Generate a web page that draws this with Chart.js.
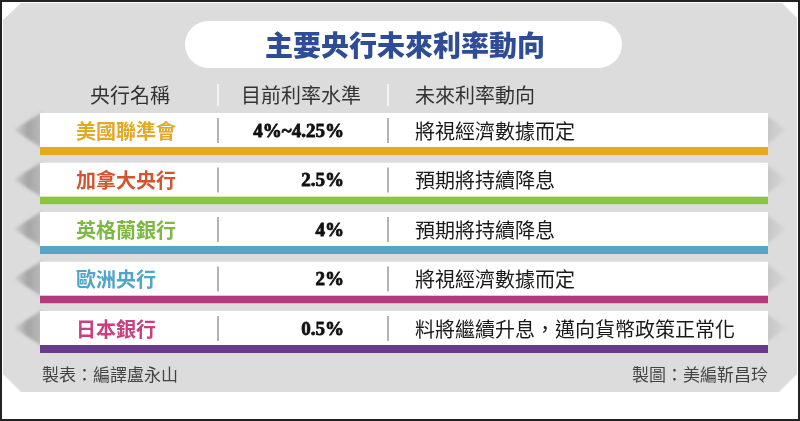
<!DOCTYPE html>
<html><head><meta charset="utf-8">
<script src="https://cdn.jsdelivr.net/npm/chart.js@4"></script>
<style>html,body{margin:0;padding:0;background:#fff}#wrap{position:relative;width:800px;height:421px}</style>
</head><body><div id="wrap"><canvas id="c"></canvas></div>
<script>
const title = '主要央行未來利率動向';
const headers = ['央行名稱', '目前利率水準', '未來利率動向'];
const banks = ['美國聯準會', '加拿大央行', '英格蘭銀行', '歐洲央行', '日本銀行'];
const rates = ['4%~4.25%', '2.5%', '4%', '2%', '0.5%'];
const outlooks = ['將視經濟數據而定', '預期將持續降息', '預期將持續降息', '將視經濟數據而定', '料將繼續升息，邁向貨幣政策正常化'];
const nameColors = ['#e3a826', '#d2552f', '#7db843', '#4ea6c8', '#c8407f'];
const stripeColors = ['#e6a91e', '#8cc63f', '#55a5c3', '#b23a7d', '#6b3b8b'];
const sourceLeft = '製表：編譯盧永山';
const sourceRight = '製圖：美編靳昌玲';

const CJK = '"Noto Sans CJK TC","Noto Sans CJK SC",sans-serif';

const framePlugin = {
  id: 'frame',
  beforeDraw(chart) {
    const ctx = chart.ctx;
    const W = chart.width, H = chart.height;
    const y = chart.scales.y;
    ctx.save();
    ctx.fillStyle = '#ffffff';
    ctx.fillRect(0, 0, W, H);
    // gray panel with chamfered corners
    ctx.fillStyle = '#dcdcdc';
    ctx.beginPath();
    ctx.moveTo(21, 3); ctx.lineTo(782, 3); ctx.lineTo(797, 18);
    ctx.lineTo(797, 374); ctx.lineTo(779, 392); ctx.lineTo(21, 392);
    ctx.lineTo(3, 374); ctx.lineTo(3, 20); ctx.closePath();
    ctx.fill();
    // border
    ctx.strokeStyle = '#222';
    ctx.lineWidth = 2;
    ctx.strokeRect(1, 1, W - 2, H - 2);
    // title pill
    ctx.fillStyle = '#ffffff';
    ctx.beginPath();
    ctx.roundRect(185, 21, 437, 47, 23.5);
    ctx.fill();
    ctx.fillStyle = '#2f4c96';
    ctx.font = '900 28px ' + CJK;
    ctx.textAlign = 'center';
    ctx.textBaseline = 'middle';
    ctx.fillText(title, 405, 45);
    // headers
    ctx.fillStyle = '#333';
    ctx.font = '400 20px ' + CJK;
    ctx.fillText(headers[0], 130, 95);
    ctx.fillText(headers[1], 301, 95);
    ctx.textAlign = 'left';
    ctx.fillText(headers[2], 415, 95);
    ctx.strokeStyle = '#f4f4f4';
    ctx.lineWidth = 2;
    [218, 388].forEach(x => { ctx.beginPath(); ctx.moveTo(x, 84); ctx.lineTo(x, 106); ctx.stroke(); });
    // arrows
    ctx.filter = 'blur(1.5px)';
    banks.forEach((b, i) => {
      const c = y.getPixelForValue(i) - 4;
      let g = ctx.createLinearGradient(14, 0, 42, 0);
      g.addColorStop(0, '#d0d0d0'); g.addColorStop(0.5, '#a5a5a5'); g.addColorStop(1, '#bababa');
      ctx.fillStyle = g;
      ctx.beginPath(); ctx.moveTo(14, c); ctx.lineTo(42, c - 18); ctx.lineTo(42, c + 18); ctx.closePath(); ctx.fill();
      g = ctx.createLinearGradient(766, 0, 786, 0);
      g.addColorStop(0, '#c4c4c4'); g.addColorStop(1, '#d6d6d6');
      ctx.fillStyle = g;
      ctx.beginPath(); ctx.moveTo(786, c); ctx.lineTo(766, c - 15); ctx.lineTo(766, c + 15); ctx.closePath(); ctx.fill();
    });
    ctx.filter = 'none';
    // footer
    ctx.fillStyle = '#444';
    ctx.font = '400 17px ' + CJK;
    ctx.textAlign = 'left';
    ctx.fillText(sourceLeft, 42, 375);
    ctx.textAlign = 'right';
    ctx.fillText(sourceRight, 768, 375);
    ctx.restore();
  },
  afterDatasetsDraw(chart) {
    const ctx = chart.ctx;
    const y = chart.scales.y;
    ctx.save();
    ctx.textBaseline = 'middle';
    banks.forEach((b, i) => {
      const c = y.getPixelForValue(i) - 4;
      ctx.strokeStyle = '#b4b4b4';
      ctx.lineWidth = 2;
      [218, 388].forEach(x => { ctx.beginPath(); ctx.moveTo(x, c - 12); ctx.lineTo(x, c + 13); ctx.stroke(); });
      ctx.textAlign = 'left';
      ctx.fillStyle = nameColors[i];
      ctx.font = '700 20px ' + CJK;
      ctx.fillText(b, 76, c + 1);
      ctx.textAlign = 'right';
      ctx.fillStyle = '#111';
      ctx.strokeStyle = '#111';
      ctx.lineWidth = 0.8;
      ctx.font = 'bold 19px "Liberation Serif","DejaVu Serif",serif';
      ctx.fillText(rates[i], 344, c + 2);
      ctx.strokeText(rates[i], 344, c + 2);
      ctx.textAlign = 'left';
      ctx.fillStyle = '#1a1a1a';
      ctx.font = '400 20px ' + CJK;
      ctx.fillText(outlooks[i], 415, c + 1);
    });
    ctx.restore();
  }
};

new Chart(document.getElementById('c'), {
  type: 'bar',
  data: {
    labels: banks,
    datasets: [{
      data: banks.map(() => [0, 1]),
      backgroundColor: '#ffffff',
      borderColor: stripeColors,
      borderWidth: { top: 0, right: 0, bottom: 8, left: 0 },
      borderSkipped: false,
      borderRadius: 0,
      inflateAmount: 0,
      categoryPercentage: 1,
      barPercentage: 0.85
    }]
  },
  options: {
    indexAxis: 'y',
    responsive: true,
    maintainAspectRatio: false,
    animation: false,
    devicePixelRatio: 1,
    layout: { padding: { left: 40, right: 32, top: 109.25, bottom: 64.25 } },
    scales: {
      x: { display: false, min: 0, max: 1 },
      y: { display: false }
    },
    plugins: { legend: { display: false }, tooltip: { enabled: false }, title: { display: false } }
  },
  plugins: [framePlugin]
});
</script></body></html>
